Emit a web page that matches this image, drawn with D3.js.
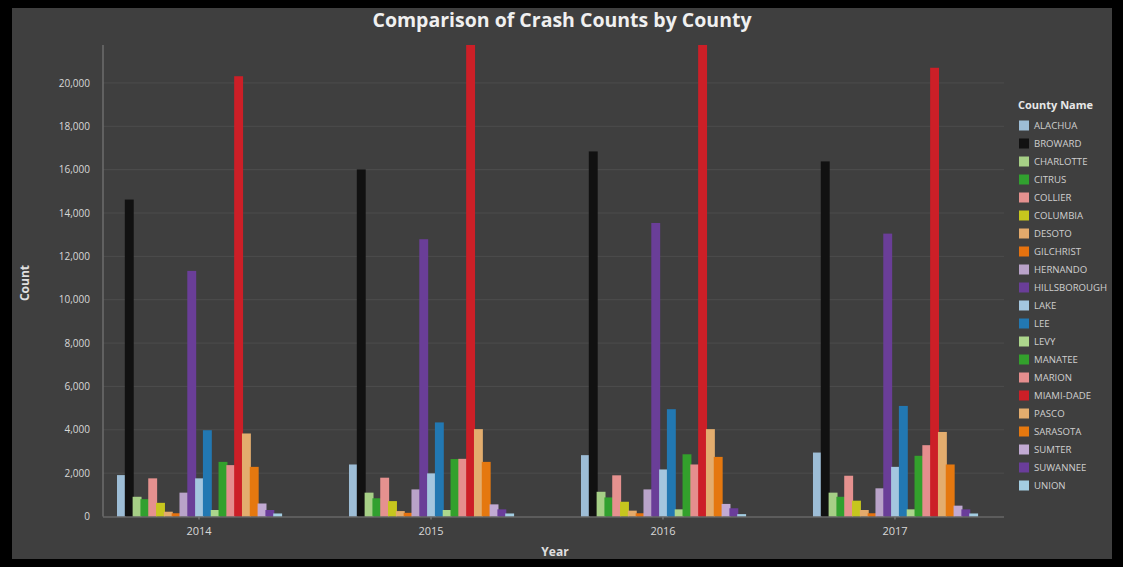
<!DOCTYPE html>
<html>
<head>
<meta charset="utf-8">
<script src="https://cdn.jsdelivr.net/npm/d3@7"></script>
<style>
  html, body { margin: 0; padding: 0; background: #000; }
  svg { display: block; }
  text { font-family: "Open Sans", "Noto Sans", sans-serif; }
</style>
</head>
<body>
<svg id="chart" width="1123" height="567"></svg>
<script>
const years = ["2014", "2015", "2016", "2017"];
const counties = ["ALACHUA","BROWARD","CHARLOTTE","CITRUS","COLLIER","COLUMBIA","DESOTO","GILCHRIST","HERNANDO","HILLSBOROUGH","LAKE","LEE","LEVY","MANATEE","MARION","MIAMI-DADE","PASCO","SARASOTA","SUMTER","SUWANNEE","UNION"];
const colors = ["#9dbdd6","#111111","#a6cf86","#31a02f","#e5918f","#c6c61e","#e3aa6c","#e5720f","#b9a3c9","#6a3e98","#a4c6df","#2278b2","#acd68c","#33a02c","#e58e8e","#cc1f27","#e3ad6e","#e5780f","#c1aad3","#6a3d9a","#a3cde2"];
const v2014 = [1910,14620,910,800,1760,630,220,150,1100,11330,1760,3980,300,2520,2370,20310,3830,2290,600,300,140];
const v2015 = [2400,16010,1100,840,1790,710,250,170,1250,12790,1990,4340,300,2650,2660,22400,4030,2520,560,330,140];
const v2016 = [2830,16840,1140,880,1900,680,270,150,1250,13540,2170,4950,330,2870,2400,22500,4030,2750,580,380,110];
const v2017 = [2950,16380,1100,910,1880,730,300,150,1300,13050,2290,5100,330,2800,3290,20700,3900,2400,500,330,140];
const yTicks = [0,2000,4000,6000,8000,10000,12000,14000,16000,18000,20000];
const seriesByYear = [v2014, v2015, v2016, v2017];

const svg = d3.select("#chart");
const W = 1123, H = 567;
svg.append("rect").attr("width", W).attr("height", H).attr("fill", "#000");
svg.append("rect").attr("x", 12).attr("y", 8).attr("width", 1100).attr("height", 551).attr("fill", "#3f3f3f");

const plotL = 103, plotR = 1004, plotT = 45, plotB = 516.5;

const y = d3.scaleLinear().domain([0, 21750]).range([plotB, plotT]).clamp(true);
const x0 = d3.scaleBand().domain(years).range([117, 977]).paddingInner(0.293).paddingOuter(0);
const x1 = d3.scaleBand().domain(counties).range([0, x0.bandwidth()]).padding(0);
const color = d3.scaleOrdinal().domain(counties).range(colors);

// gridlines
svg.append("g").selectAll("line").data(yTicks.slice(1)).join("line")
  .attr("x1", plotL).attr("x2", plotR)
  .attr("y1", d => y(d)).attr("y2", d => y(d))
  .attr("stroke", "#4d4d4d").attr("stroke-width", 1);

// y axis
const yAxis = svg.append("g").attr("transform", `translate(${plotL},0)`)
  .call(d3.axisLeft(y).tickValues(yTicks).tickFormat(d3.format(",")).tickSize(0).tickPadding(13));
yAxis.select(".domain").remove();
yAxis.selectAll("text").attr("fill", "#d8d8d8").attr("font-size", 10);
svg.append("line").attr("x1", plotL).attr("x2", plotL).attr("y1", plotT).attr("y2", plotB)
  .attr("stroke", "#6e6e6e").attr("stroke-width", 1.5);

// bars
const groups = svg.append("g").selectAll("g").data(years).join("g")
  .attr("transform", d => `translate(${x0(d)},0)`);
groups.selectAll("rect")
  .data((yr, i) => counties.map((c, j) => ({ county: c, value: seriesByYear[i][j] })))
  .join("rect")
  .attr("x", d => x1(d.county))
  .attr("width", x1.bandwidth() * 1.14)
  .attr("y", d => y(d.value))
  .attr("height", d => plotB - y(d.value))
  .attr("fill", d => color(d.county));

// x axis
const xAxis = svg.append("g").attr("transform", `translate(0,${plotB})`)
  .call(d3.axisBottom(x0).tickSize(3).tickPadding(8));
xAxis.select(".domain").remove();
xAxis.selectAll("line").attr("stroke", "#8a8a8a");
xAxis.selectAll("text").attr("fill", "#d8d8d8").attr("font-size", 11);
svg.append("line").attr("x1", plotL).attr("x2", plotR).attr("y1", plotB + 0.5).attr("y2", plotB + 0.5)
  .attr("stroke", "#7a7a7a").attr("stroke-width", 1.2);

// titles
svg.append("text").attr("x", 562).attr("y", 27).attr("text-anchor", "middle")
  .attr("fill", "#f0f0f0").attr("font-size", 19.5).attr("font-weight", "bold")
  .text("Comparison of Crash Counts by County");
svg.append("text").attr("x", 555).attr("y", 556).attr("text-anchor", "middle")
  .attr("fill", "#e0e0e0").attr("font-size", 12).attr("font-weight", "bold").text("Year");
svg.append("text").attr("transform", "translate(29,283) rotate(-90)").attr("text-anchor", "middle")
  .attr("fill", "#e0e0e0").attr("font-size", 12).attr("font-weight", "bold").text("Count");

// legend
const lg = svg.append("g").attr("transform", "translate(1018,0)");
lg.append("text").attr("x", 0).attr("y", 109).attr("fill", "#e8e8e8")
  .attr("font-size", 11).attr("font-weight", "bold").text("County Name");
const items = lg.selectAll("g.item").data(counties).join("g").attr("class", "item")
  .attr("transform", (d, i) => `translate(0,${125.5 + i * 18})`);
items.append("rect").attr("x", 1).attr("y", -5).attr("width", 10).attr("height", 10)
  .attr("fill", d => color(d));
items.append("text").attr("x", 16).attr("y", 3.5).attr("fill", "#cfcfcf")
  .attr("font-size", 9.6).text(d => d);
</script>
</body>
</html>
